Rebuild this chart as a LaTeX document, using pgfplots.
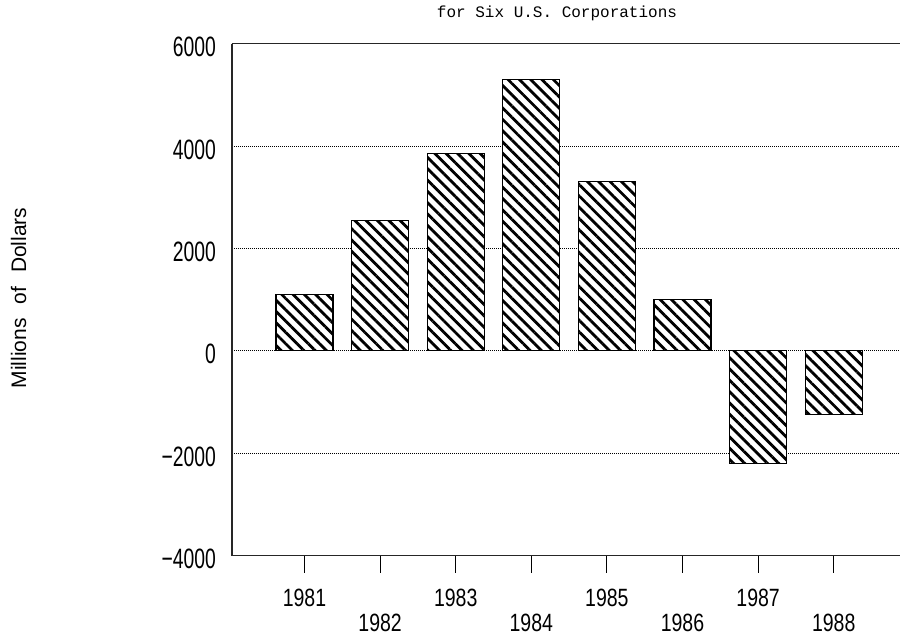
\documentclass[border=0pt]{standalone}
\usepackage{fontspec}
\setmainfont{Liberation Sans}
\newfontfamily\ytfont{Liberation Sans}[FakeStretch=0.69]
\newfontfamily\xtfont{Liberation Sans}[FakeStretch=0.78]
\newfontfamily\ttl{Liberation Mono}
\usepackage{pgfplots}
\pgfplotsset{compat=1.18}
\usetikzlibrary{patterns.meta}
\begin{document}
\begin{tikzpicture}
\useasboundingbox (-232pt,-79.5pt) rectangle (668pt,555.5pt);
\begin{axis}[
  at={(0pt,0pt)}, anchor=south west,
  scale only axis, width=668pt, height=512pt,
  xmin=-0.959, xmax=7.877, ymin=-4000, ymax=6000,
  axis x line=box, axis y line=left,
  axis line style={-, line width=1.1pt, black!85},
  ybar, bar width=57pt,
  ytick={-4000,-2000,0,2000,4000,6000},
  yticklabels={−4000,−2000,0,2000,4000,6000},
  ymajorgrids, grid style={black, line width=0.8pt, dash pattern=on 1pt off 1pt},
  ytick style={draw=none},
  ytick align=inside,
  yticklabel style={font=\ytfont\fontsize{28}{32}\selectfont, inner sep=0pt, xshift=-16pt, yshift=-3.5pt, anchor=east},
  xtick={0,2,4,6}, xticklabels={1981,1983,1985,1987},
  extra x ticks={1,3,5,7}, extra x tick labels={1982,1984,1986,1988},
  extra x tick style={xticklabel style={yshift=-25pt}},
  xtick pos=bottom, xtick align=outside, major tick length=17pt,
  xtick style={black, line width=0.9pt},
  xticklabel style={font=\xtfont\fontsize{25}{30}\selectfont, inner sep=0pt, anchor=base, yshift=-33.5pt},
  title={\ttl\fontsize{16}{18}\selectfont for Six U.S. Corporations},
  title style={at={(0.4865,1)}, anchor=base, yshift=20.5pt, inner sep=0pt},
  ylabel={\fontsize{21}{24}\selectfont Millions\hspace{14pt}of\hspace{14pt}Dollars},
  every axis y label/.style={at={(0,0.503)}, xshift=-213.5pt, rotate=90, anchor=center, inner sep=0pt},
]
\addplot[draw=black, line width=1.1pt, fill=white,
  postaction={pattern={Lines[angle=-45,distance=8pt,line width=2.8pt]}}]
  coordinates {(0,1100) (1,2550) (2,3850) (3,5300) (4,3300) (5,1000) (6,-2200) (7,-1250)};
\end{axis}
\end{tikzpicture}
\end{document}
